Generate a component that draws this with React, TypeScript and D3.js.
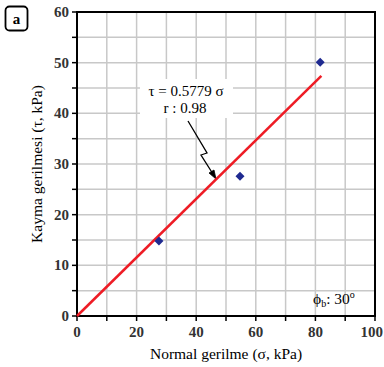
import React from "react";
import * as d3 from "d3";

const sigma = [27.5, 54.7, 81.6];
const tau = [14.8, 27.6, 50.1];
const slope = 0.5779;
const fitRange = [0, 82];
const xTicks = [0, 20, 40, 60, 80, 100];
const yTicks = [0, 10, 20, 30, 40, 50, 60];
const xGrid = d3.range(0, 101, 10);
const yGrid = d3.range(0, 61, 5);

export default function App() {
  const W = 384, H = 367;
  const L = 77, R = 375, T = 12, B = 316;
  const x = d3.scaleLinear().domain([0, 100]).range([L, R]);
  const y = d3.scaleLinear().domain([0, 60]).range([B, T]);
  const line = d3.line<number>().x((d) => x(d)).y((d) => y(slope * d));
  const diamond = "M0,-4.5L4.5,0L0,4.5L-4.5,0Z";
  const font = "'Liberation Serif', 'Times New Roman', serif";
  return (
    <svg width={W} height={H} style={{ position: "absolute", left: 0, top: 0 }} fontFamily={font}>
      <rect width={W} height={H} fill="#fff" />
      {xGrid.map((v) => (
        <line key={"gx" + v} x1={x(v)} x2={x(v)} y1={T} y2={B} stroke="#c8c8c8" strokeWidth={1.5} />
      ))}
      {yGrid.map((v) => (
        <line key={"gy" + v} x1={L} x2={R} y1={y(v)} y2={y(v)} stroke="#c8c8c8" strokeWidth={1.5} />
      ))}
      {xGrid.map((v) => (
        <line key={"tx" + v} x1={x(v)} x2={x(v)} y1={B} y2={B + 5} stroke="#000" strokeWidth={1.5} />
      ))}
      {yGrid.map((v) => (
        <line key={"ty" + v} x1={L - 5} x2={L} y1={y(v)} y2={y(v)} stroke="#000" strokeWidth={1.5} />
      ))}
      <rect x={L} y={T} width={R - L} height={B - T} fill="none" stroke="#000" strokeWidth={2} />
      {/* annotation box */}
      <rect x={140} y={79} width={93} height={39} fill="#fff" />
      <text x={186} y={96} textAnchor="middle" fontSize={15}>τ = 0.5779 σ</text>
      <text x={185} y={113} textAnchor="middle" fontSize={15}>r : 0.98</text>
      <path d="M188,121 L207,153 L201,155 L213,174" fill="none" stroke="#000" strokeWidth={1.3} />
      <path d="M216,179 L209,173 L214,170 Z" fill="#000" stroke="#000" strokeWidth={0.8} />
      <path d={line(fitRange) || ""} fill="none" stroke="#ee1c25" strokeWidth={2.5} />
      {sigma.map((s, i) => (
        <path key={"p" + i} d={diamond} transform={`translate(${x(s)},${y(tau[i])})`} fill="#1f2a90" />
      ))}
      {xTicks.map((v) => {
        const last = v === 100;
        return (
          <text key={"lx" + v} x={last ? W - 1 : x(v)} y={B + 21} textAnchor={last ? "end" : "middle"} fontSize={15} fontWeight={600} fill="#333">{v}</text>
        );
      })}
      {yTicks.map((v) => (
        <text key={"ly" + v} x={L - 8} y={y(v) + 5} textAnchor="end" fontSize={15} fontWeight={600} fill="#333">{v}</text>
      ))}
      <text x={226} y={359} textAnchor="middle" fontSize={15.5}>Normal gerilme (σ, kPa)</text>
      <text transform={`translate(42,${(T + B) / 2}) rotate(-90)`} textAnchor="middle" fontSize={15.5}>Kayma gerilmesi (τ, kPa)</text>
      <text x={313} y={304} fontSize={15.5}>
        ϕ<tspan fontSize={10} dy={3}>b</tspan><tspan dy={-3}>: 30</tspan><tspan fontSize={10} dy={-6}>o</tspan>
      </text>
      <rect x={5.5} y={6.5} width={22} height={24} rx={4} fill="#fff" stroke="#000" strokeWidth={1.8} />
      <text x={16.5} y={24} textAnchor="middle" fontSize={15} fontWeight="bold">a</text>
    </svg>
  );
}
